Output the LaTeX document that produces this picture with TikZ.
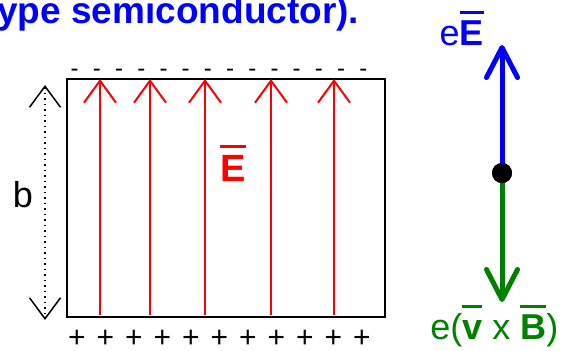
\documentclass[tikz,border=0pt]{standalone}
\usepackage{fontspec}
\setmainfont{Liberation Sans}
\usetikzlibrary{arrows.meta}

% bar over a vector letter
\newcommand{\vecbar}[1]{\vbox{\hrule height 0.085em\kern 0.17em\hbox{\vphantom{E}#1}}}

\begin{document}
\begin{tikzpicture}[
  x=0.5pt, y=-0.5pt,
  lbl/.style={inner sep=0pt, font=\fontsize{18}{21}\selectfont},
  chg/.style={inner sep=0pt, font=\fontsize{15}{17}\selectfont},
  efield/.style={red, line width=1pt, -{Straight Barb[length=11pt, width=16pt]}},
  force/.style={line width=2.5pt, line cap=round, -{Straight Barb[length=15pt, width=15.5pt, round]}},
  dim/.style={dotted, line width=0.75pt, {Straight Barb[length=10.5pt, width=15.5pt]}-{Straight Barb[length=10.5pt, width=15.5pt]}},
]
\useasboundingbox (0,0) rectangle (572,350);

% title (cut at the left)
\node[lbl, blue, font=\fontsize{18.5}{22}\selectfont\bfseries, anchor=base west] (ttl) at (-3,23) {ype semiconductor).};

% the sample
\draw[line width=1pt] (67,79) rectangle (385,317);
\foreach \x in {100,150,205,271,334}
  \draw[efield] (\x,315) -- (\x,79);
\node[lbl, red, font=\fontsize{19}{22}\selectfont\bfseries, anchor=base] (E) at (233,181) {\vecbar{E}};

% surface charges
\foreach \i in {0,...,13}
  \node[chg, font=\fontsize{12}{14}\selectfont, anchor=base] (m\i) at (74.7+22.2*\i,76.5) {-};
\foreach \i in {0,...,10}
  \node[chg] (p\i) at (77+28.5*\i,339) {+};

% thickness b
\coordinate (btop) at (45,85);
\coordinate (bbot) at (45,320);
\draw[dim] (btop) -- (bbot);
\node[lbl] (b) at (23,195) {b};

% forces on the carrier
\coordinate (etip) at (502,45);
\coordinate (btip) at (502,302);
\node[circle, fill, inner sep=0pt, minimum size=10pt] (q) at (502,173) {};
\draw[force, blue] (q.center) -- (etip);
\draw[force, green!50!black] (q.center) -- (btip);
\node[circle, fill, inner sep=0pt, minimum size=10pt] at (q) {};
\node[lbl, blue, anchor=base east] (elab) at (484,45) {e\textbf{\vecbar{E}}};
\node[lbl, green!50!black, anchor=base west] (flab) at (430,339) {e(\textbf{\vecbar{v}}~x~\textbf{\vecbar{B}})};
\end{tikzpicture}
\end{document}
